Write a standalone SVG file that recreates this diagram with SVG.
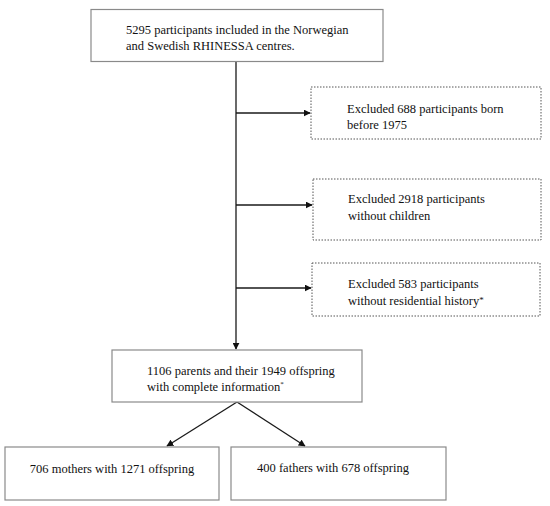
<svg xmlns="http://www.w3.org/2000/svg" width="550" height="506" viewBox="0 0 550 506">
<style>
.box{fill:#fff;stroke:#8a8a8a;stroke-width:1.2}
.dbox{fill:#fff;stroke:#555;stroke-width:1;stroke-dasharray:1.5 1.5}
.t{font-family:"Liberation Serif","Times New Roman",serif;font-size:12.5px;fill:#111}
.c{text-anchor:middle}
.ln{stroke:#1a1a1a;stroke-width:1.3;fill:none}
</style>
<defs>
<marker id="ah" viewBox="0 0 10 10" refX="9" refY="5" markerWidth="7" markerHeight="7" markerUnits="userSpaceOnUse" orient="auto">
<path d="M0,0 L10,5 L0,10 z" fill="#111"/>
</marker>
</defs>
<rect width="550" height="506" fill="#fff"/>
<g id="connectors">
<line class="ln" x1="236" y1="62" x2="236" y2="349" marker-end="url(#ah)"/>
<line class="ln" x1="236" y1="113" x2="310" y2="113" marker-end="url(#ah)"/>
<line class="ln" x1="236" y1="205" x2="312" y2="205" marker-end="url(#ah)"/>
<line class="ln" x1="236" y1="288" x2="311" y2="288" marker-end="url(#ah)"/>
<line class="ln" x1="237" y1="402" x2="167" y2="446" marker-end="url(#ah)"/>
<line class="ln" x1="237" y1="402" x2="305" y2="446" marker-end="url(#ah)"/>
</g>
<g id="n-top">
<rect class="box" x="91" y="9.5" width="292" height="52"/>
<text class="t" x="126" y="34">5295 participants included in the Norwegian</text>
<text class="t" x="126" y="50">and Swedish RHINESSA centres.</text>
</g>
<g id="n-ex1">
<rect class="dbox" x="311" y="87" width="230" height="52"/>
<text class="t" x="347" y="113">Excluded 688 participants born</text>
<text class="t" x="347" y="129">before 1975</text>
</g>
<g id="n-ex2">
<rect class="dbox" x="313" y="179" width="228" height="61"/>
<text class="t" x="348" y="203">Excluded 2918 participants</text>
<text class="t" x="348" y="220">without children</text>
</g>
<g id="n-ex3">
<rect class="dbox" x="312" y="263" width="228" height="53"/>
<text class="t" x="348" y="288">Excluded 583 participants</text>
<text class="t" x="348" y="305">without residential history<tspan font-size="9" dy="-2">*</tspan></text>
</g>
<g id="n-mid">
<rect class="box" x="112" y="350" width="250" height="52"/>
<text class="t" x="147" y="375">1106 parents and their 1949 offspring</text>
<text class="t" x="147" y="391">with complete information<tspan font-size="7" dy="-5">*</tspan></text>
</g>
<g id="n-mothers">
<rect class="box" x="5" y="447" width="214" height="53"/>
<text class="t c" x="112" y="473">706 mothers with 1271 offspring</text>
</g>
<g id="n-fathers">
<rect class="box" x="231" y="447" width="215" height="53"/>
<text class="t c" x="333" y="472">400 fathers with 678 offspring</text>
</g>
</svg>
